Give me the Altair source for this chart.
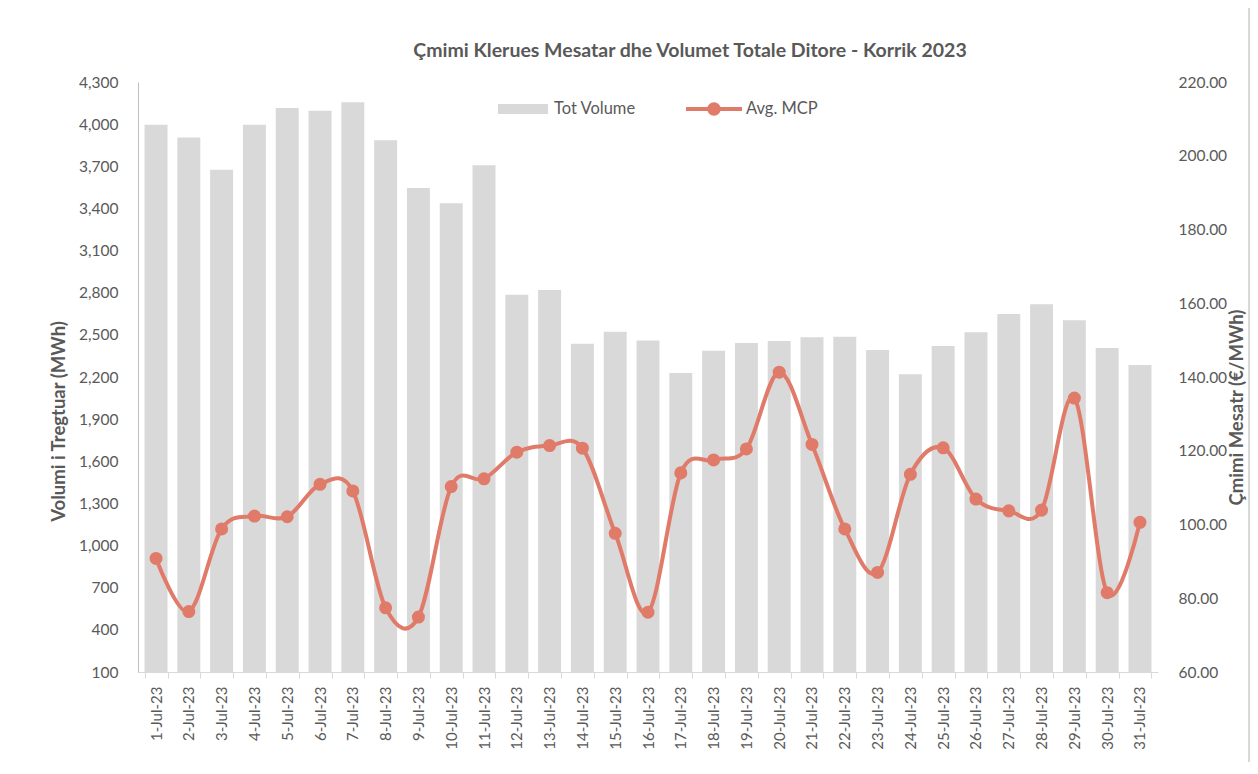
import altair as alt
import pandas as pd

dates = [f"{d}-Jul-23" for d in range(1, 32)]
volume = [3995, 3905, 3675, 3995, 4115, 4095, 4155, 3885, 3546, 3437, 3707,
          2785, 2820, 2437, 2522, 2460, 2229, 2386, 2442, 2457, 2483, 2487,
          2393, 2220, 2421, 2518, 2649, 2718, 2604, 2407, 2286]
price = [90.8, 76.4, 98.8, 102.3, 102.1, 110.9, 109.1, 77.4, 74.9, 110.3, 112.4,
         119.6, 121.4, 120.7, 97.6, 76.2, 114.0, 117.5, 120.5, 141.3, 121.7,
         98.8, 87.0, 113.6, 120.8, 106.9, 103.7, 103.9, 134.3, 81.5, 100.6]
series_names = ["Tot Volume", "Avg. MCP"]
chart_title = "Çmimi Klerues Mesatar dhe Volumet Totale Ditore - Korrik 2023"

vol_ticks = list(range(100, 4301, 300))
price_ticks = list(range(60, 221, 20))

df = pd.DataFrame({"date": dates, "volume": volume, "price": price,
                   "vlabel": series_names[0], "plabel": series_names[1]})

FONT = "Lato"
GREY = "#595959"
LINE = "#E07B6A"
BAR = "#D9D9D9"

xenc = alt.X(
    "date:N", sort=dates, title=None,
    scale=alt.Scale(paddingInner=0.3, paddingOuter=0.2),
    axis=alt.Axis(labelAngle=270, labelFontSize=15, labelColor=GREY, labelFont=FONT,
                  labelPadding=8, tickBand="extent", tickSize=6, tickColor=BAR,
                  domainColor=BAR, grid=False),
)

bars = alt.Chart(df).mark_bar(color=BAR).encode(
    x=xenc,
    y=alt.Y("volume:Q", title="Volumi i Tregtuar (MWh)",
            scale=alt.Scale(domain=[100, 4300], nice=False, zero=False),
            axis=alt.Axis(values=vol_ticks, format=",.0f", grid=False, ticks=False,
                          domainColor="#BFBFBF", labelFontSize=15.5, labelColor=GREY,
                          labelFont=FONT, labelPadding=20, titleFont=FONT,
                          titleFontSize=18.5, titleColor=GREY, titleFontWeight="bold",
                          titleAngle=270, titleX=-80, titleY=339,
                          titleAlign="center", titleBaseline="middle")),
    y2=alt.datum(100),
    color=alt.Color("vlabel:N", scale=alt.Scale(domain=[series_names[0]], range=[BAR]),
                    legend=alt.Legend(title=None, orient="none", legendX=360, legendY=2,
                                      symbolType="M-1,-0.2H1V0.2H-1Z", symbolSize=2500,
                                      symbolStrokeWidth=0, labelFontSize=16.5,
                                      labelColor=GREY, labelFont=FONT, labelOffset=6,
                                      padding=0)),
)

yprice_axis = alt.Axis(values=price_ticks, format=".2f", grid=False, ticks=False,
                       domain=False, orient="right", labelFontSize=15.5, labelColor=GREY,
                       labelFont=FONT, labelPadding=20, labelAlign="left",
                       titleFont=FONT, titleFontSize=18.5, titleColor=GREY,
                       titleFontWeight="bold", titleAngle=270, titleX=78, titleY=325,
                       titleAlign="center", titleBaseline="middle")
yprice = alt.Y("price:Q", title="Çmimi Mesatr (€/MWh)",
               scale=alt.Scale(domain=[60, 220], nice=False, zero=False),
               axis=yprice_axis)

line = alt.Chart(df).mark_line(color=LINE, strokeWidth=4, interpolate="cardinal").encode(
    x=xenc, y=yprice)

points = alt.Chart(df).mark_circle(size=170, opacity=1).encode(
    x=xenc, y=yprice,
    color=alt.Color("plabel:N", scale=alt.Scale(domain=[series_names[1]], range=[LINE]),
                    legend=alt.Legend(title=None, orient="none", legendX=548, legendY=-1,
                                      symbolType="M-1,-0.07H1V0.07H-1Z M-0.24,0A0.24,0.24 0 1,1 0.24,0A0.24,0.24 0 1,1 -0.24,0Z",
                                      symbolSize=3136, symbolStrokeWidth=0,
                                      labelFontSize=16.5, labelColor=GREY,
                                      labelFont=FONT, labelOffset=4, padding=0)),
)

one = pd.DataFrame({"k": [0]})
frame = alt.Chart(one).mark_rect(
    fill=None, stroke=BAR, strokeWidth=2, clip=False).encode(
    x=alt.value(-131), x2=alt.value(1111), y=alt.value(-90), y2=alt.value(684))

title = alt.Chart(one).mark_text(
    font=FONT, fontSize=19.5, fontWeight="bold", color=GREY, align="center",
    baseline="middle").encode(
    x=alt.value(552), y=alt.value(-31), text=alt.value(chart_title))

chart = alt.layer(frame, title, bars, alt.layer(line, points)).resolve_scale(
    y="independent", color="independent"
).properties(
    width=1020, height=590,
    autosize=alt.AutoSizeParams(type="none"),
    padding={"left": 130, "top": 74, "right": 92, "bottom": 90},
).configure_view(stroke=None)

chart.save("out.html", embed_options={"renderer": "svg", "actions": False})
